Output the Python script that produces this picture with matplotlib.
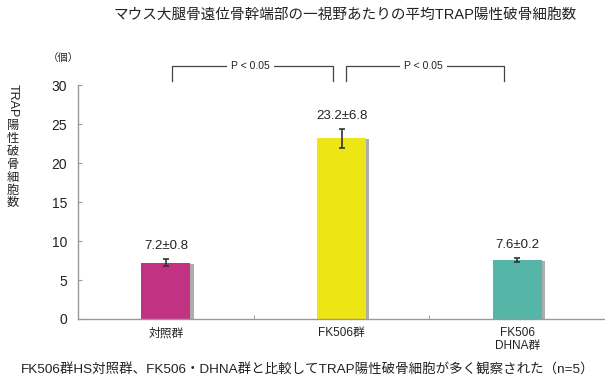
import matplotlib.pyplot as plt
import matplotlib.patheffects as pe
import numpy as np

plt.rcParams['font.family'] = ['Liberation Sans', 'Noto Sans CJK JP', 'DejaVu Sans']

# グループ名と平均値（個）、表示用のSD文字列、エラーバーの長さ
groups = ['対照群', 'FK506群', 'FK506\nDHNA群']
means = [7.2, 23.2, 7.6]
sd_text = ['0.8', '6.8', '0.2']
err = [0.45, 1.2, 0.25]
colors = ['#C13282', '#EEE614', '#55B6A8']

title = 'マウス大腿骨遠位骨幹端部の一視野あたりの平均TRAP陽性破骨細胞数'
note = 'FK506群HS対照群、FK506・DHNA群と比較してTRAP陽性破骨細胞が多く観察された（n=5）'
ylabel_chars = ['陽', '性', '破', '骨', '細', '胞', '数']

fig = plt.figure(figsize=(6.05, 3.82), dpi=100)
ax = fig.add_axes([0.129, 0.165, 0.871, 0.612])

x = np.arange(len(groups))
shadow = [pe.SimplePatchShadow(offset=(2.2, -0.8), shadow_rgbFace='#999999', alpha=0.8),
          pe.Normal()]
bars = ax.bar(x, means, width=0.28, color=colors, zorder=2)
for b in bars:
    b.set_path_effects(shadow)
ax.errorbar(x, means, yerr=err, fmt='none', ecolor='#333333', elinewidth=1.2,
            capsize=2.5, capthick=1.2, zorder=3)

for xi, m, e, s in zip(x, means, err, sd_text):
    ax.annotate(f'{m}±{s}', (xi, m + e), xytext=(0, 5), textcoords='offset points',
                ha='center', va='bottom', fontsize=9.5, color='#222222')

ax.set_xlim(-0.5, 2.5)
ax.set_ylim(0, 30)
ax.set_yticks(range(0, 31, 5))
ax.set_xticks(x)
ax.set_xticklabels(groups, fontsize=8.5, color='#222222', linespacing=1.05)
ax.set_xticks([0.5, 1.5], minor=True)
ax.tick_params(axis='x', which='major', length=0, pad=6)
ax.tick_params(axis='x', which='minor', direction='in', length=3, color='#999999')
ax.tick_params(axis='y', direction='in', length=3, color='#999999', labelsize=10,
               labelcolor='#222222', pad=8)
for side in ['top', 'right']:
    ax.spines[side].set_visible(False)
for side in ['left', 'bottom']:
    ax.spines[side].set_color('#999999')
    ax.spines[side].set_linewidth(1)

# 有意差の括弧
for x0, x1 in [(0.034, 0.949), (1.028, 1.926)]:
    ax.plot([x0, x0, x1, x1], [30.5, 32.4, 32.4, 30.5], color='#444444', lw=0.9,
            clip_on=False)
    ax.text((x0 + x1) / 2 - 0.01, 32.4, 'P < 0.05', ha='center', va='center', fontsize=7.5,
            color='#222222', bbox=dict(facecolor='white', edgecolor='none', pad=3),
            clip_on=False)

fig.text(0.57, 0.96, title, ha='center', va='center', fontsize=10.5, color='#222222')
fig.text(0.104, 0.848, '（個）', ha='center', va='center', fontsize=7.5, color='#222222')

# 縦書きの軸ラベル（英字は横倒し、漢字は一文字ずつ縦に並べる）
fig.text(0.021, (382 - 101) / 382, 'TRAP', rotation=-90, ha='center', va='center',
         fontsize=9, color='#222222')
for i, ch in enumerate(ylabel_chars):
    fig.text(0.021, (382 - 126 - 12.9 * i) / 382, ch, ha='center', va='center',
             fontsize=8.8, color='#222222')

fig.text(0.508, 0.032, note, ha='center', va='center', fontsize=9.7, color='#222222')

fig.savefig('out.png', dpi=100)
